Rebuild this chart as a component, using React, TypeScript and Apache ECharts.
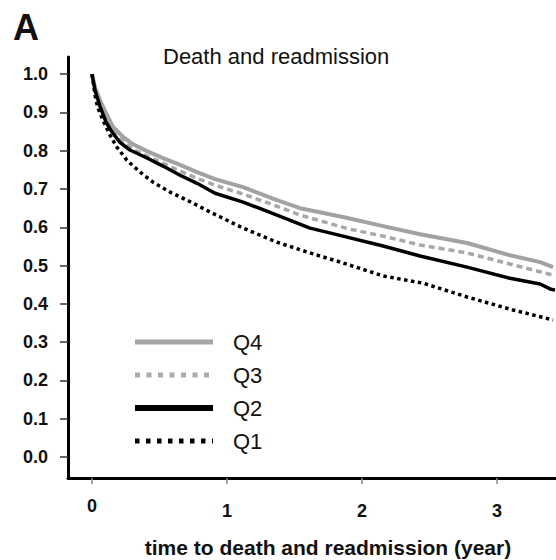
import { useEffect, useRef } from 'react';
import * as echarts from 'echarts';

// Event-free survival (death and readmission) by quartile
const q4Years = [0, 0.022, 0.059, 0.111, 0.156, 0.23, 0.304, 0.407, 0.526, 0.652, 0.778, 0.911, 1.119, 1.37, 1.541, 1.859, 2.156, 2.43, 2.778, 3.096, 3.319, 3.415];
const q4Surv = [1.0, 0.966, 0.932, 0.893, 0.862, 0.836, 0.817, 0.799, 0.781, 0.763, 0.744, 0.726, 0.705, 0.671, 0.65, 0.627, 0.603, 0.582, 0.559, 0.527, 0.509, 0.496];

const q3Years = [0, 0.022, 0.059, 0.111, 0.156, 0.23, 0.304, 0.407, 0.526, 0.652, 0.778, 0.911, 1.119, 1.37, 1.541, 1.911, 2.156, 2.43, 2.778, 3.096, 3.415];
const q3Surv = [1.0, 0.963, 0.927, 0.885, 0.854, 0.825, 0.804, 0.786, 0.768, 0.747, 0.728, 0.71, 0.687, 0.655, 0.632, 0.595, 0.577, 0.554, 0.533, 0.504, 0.475];

const q2Years = [0, 0.022, 0.059, 0.104, 0.148, 0.207, 0.281, 0.407, 0.526, 0.652, 0.778, 0.911, 1.119, 1.37, 1.615, 1.859, 2.156, 2.43, 2.778, 3.096, 3.319, 3.393, 3.43];
const q2Surv = [1.0, 0.958, 0.916, 0.875, 0.849, 0.822, 0.802, 0.781, 0.76, 0.736, 0.715, 0.689, 0.666, 0.632, 0.598, 0.577, 0.551, 0.525, 0.496, 0.467, 0.452, 0.439, 0.436];

const q1Years = [0, 0.022, 0.044, 0.081, 0.133, 0.185, 0.259, 0.356, 0.452, 0.578, 0.704, 0.874, 1.119, 1.37, 1.615, 1.859, 2.156, 2.452, 2.778, 3.119, 3.415];
const q1Surv = [1.0, 0.945, 0.911, 0.88, 0.841, 0.809, 0.775, 0.744, 0.718, 0.692, 0.671, 0.64, 0.598, 0.561, 0.533, 0.507, 0.473, 0.454, 0.418, 0.384, 0.358];

const xTicks = [0, 1, 2, 3];
const yTicks = [0, 0.1, 0.2, 0.3, 0.4, 0.5, 0.6, 0.7, 0.8, 0.9, 1.0];
const legendNames = ['Q4', 'Q3', 'Q2', 'Q1'];

const FONT = '"Liberation Sans", Arial, Helvetica, sans-serif';

const X_MIN = -0.178;
const X_MAX = 3.437;
const Y_MIN = -0.055;
const Y_MAX = 1.045;

const pairs = (xs: number[], ys: number[]) => xs.map((x, i) => [x, ys[i]]);

const styles: Record<string, { color: string; width: number; type: any }> = {
  Q4: { color: '#a2a2a2', width: 4, type: 'solid' },
  Q3: { color: '#a8a8a8', width: 3.5, type: [6, 4] },
  Q2: { color: '#000000', width: 3.5, type: 'solid' },
  Q1: { color: '#000000', width: 3.5, type: [3.5, 3.5] },
};

const legendStyles: Record<string, { color: string; width: number; dash: number[] | null }> = {
  Q4: { color: '#a6a6a6', width: 5, dash: null },
  Q3: { color: '#ababab', width: 5, dash: [5, 6.5] },
  Q2: { color: '#000000', width: 6, dash: null },
  Q1: { color: '#000000', width: 5, dash: [4.5, 6.5] },
};

const tickFont = { fontSize: 18, fontWeight: 'bold', fontFamily: FONT, color: '#111' };

// Label-only x axis (shares the scale of the main axis, shifted down)
const xLabelAxis = (values: number[], offset: number) => ({
  type: 'value',
  position: 'bottom',
  min: X_MIN,
  max: X_MAX,
  offset,
  axisLine: { show: false },
  axisTick: { show: false },
  splitLine: { show: false },
  axisLabel: { customValues: values, ...tickFont, formatter: (v: number) => String(v) },
});

export default function App() {
  const ref = useRef<HTMLDivElement>(null);

  useEffect(() => {
    if (!ref.current) return;
    const chart = echarts.init(ref.current, undefined, { renderer: 'svg' });

    const seriesData: Record<string, number[][]> = {
      Q4: pairs(q4Years, q4Surv),
      Q3: pairs(q3Years, q3Surv),
      Q2: pairs(q2Years, q2Surv),
      Q1: pairs(q1Years, q1Surv),
    };

    const legendGraphics: any[] = [];
    legendNames.forEach((name, i) => {
      const y = 342 + i * 33;
      const ls = legendStyles[name];
      legendGraphics.push({
        type: 'line',
        shape: { x1: 135, y1: y, x2: 213, y2: y },
        style: {
          stroke: ls.color,
          lineWidth: ls.width,
          lineDash: ls.dash || undefined,
          lineCap: 'butt',
        },
        silent: true,
      });
      legendGraphics.push({
        type: 'text',
        x: 233,
        y: y,
        style: {
          text: name,
          fontSize: 22,
          fontFamily: FONT,
          fill: '#111',
          verticalAlign: 'middle',
          align: 'left',
        },
        silent: true,
      });
    });

    chart.setOption({
      animation: false,
      backgroundColor: '#ffffff',
      title: {
        text: 'Death and readmission',
        left: 163,
        top: 45,
        padding: 0,
        textStyle: {
          fontSize: 22,
          fontWeight: 'normal',
          fontFamily: FONT,
          color: '#111',
        },
      },
      grid: { left: 68, right: 0, top: 57, bottom: 82, containLabel: false, outerBoundsMode: 'none' },
      xAxis: [
        {
          type: 'value',
          min: X_MIN,
          max: X_MAX,
          axisLine: { show: true, onZero: false, lineStyle: { color: '#000', width: 3 } },
          axisTick: {
            show: true,
            customValues: xTicks,
            length: 6,
            lineStyle: { color: '#8a8a8a', width: 1.5 },
          },
          axisLabel: { show: false },
          splitLine: { show: false },
        },
        xLabelAxis(xTicks.slice(0, 1), 11),
        xLabelAxis(xTicks.slice(1), 16),
      ],
      yAxis: [
        {
          type: 'value',
          min: Y_MIN,
          max: Y_MAX,
          axisLine: { show: true, onZero: false, lineStyle: { color: '#000', width: 3 } },
          axisTick: {
            show: true,
            customValues: yTicks,
            length: 8,
            lineStyle: { color: '#333', width: 1.5 },
          },
          axisLabel: { show: false },
          splitLine: { show: false },
        },
        {
          type: 'value',
          position: 'left',
          min: Y_MIN,
          max: Y_MAX,
          offset: 12,
          axisLine: { show: false },
          axisTick: { show: false },
          splitLine: { show: false },
          axisLabel: {
            customValues: yTicks,
            ...tickFont,
            formatter: (v: number) => v.toFixed(1),
          },
        },
      ],
      series: legendNames.map((name, i) => ({
        name,
        type: 'line',
        xAxisIndex: 0,
        yAxisIndex: 0,
        data: seriesData[name],
        showSymbol: false,
        symbol: 'none',
        smooth: false,
        z: 2 + i,
        lineStyle: {
          color: styles[name].color,
          width: styles[name].width,
          type: styles[name].type,
          cap: 'butt',
          join: 'round',
        },
      })),
      graphic: [
        {
          type: 'text',
          x: 13,
          y: 27,
          style: {
            text: 'A',
            fontSize: 36,
            fontWeight: 'bold',
            fontFamily: FONT,
            fill: '#111',
            verticalAlign: 'middle',
            align: 'left',
          },
          silent: true,
        },
        {
          type: 'text',
          x: 328,
          y: 547,
          style: {
            text: 'time to death and readmission (year)',
            fontSize: 21,
            fontWeight: 'bold',
            fontFamily: FONT,
            fill: '#111',
            verticalAlign: 'middle',
            align: 'center',
          },
          silent: true,
        },
        ...legendGraphics,
      ],
    });

    return () => chart.dispose();
  }, []);

  return (
    <div
      ref={ref}
      style={{ position: 'fixed', left: 0, top: 0, width: 556, height: 560, background: '#fff' }}
    />
  );
}
